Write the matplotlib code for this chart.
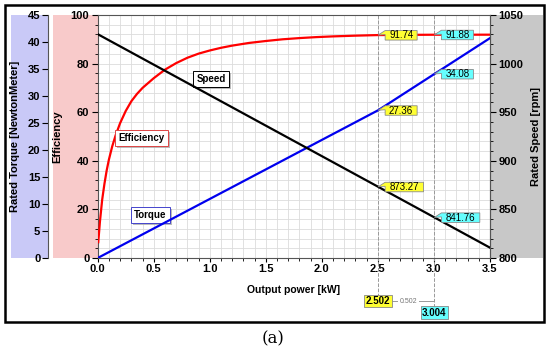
import matplotlib
matplotlib.use('Agg')
import matplotlib.pyplot as plt
import matplotlib.ticker as ticker
import matplotlib.transforms as mtransforms
import matplotlib.patheffects as pe
from matplotlib.patches import Rectangle, Polygon

plt.rcParams['font.family'] = ['Liberation Sans', 'DejaVu Sans']
plt.rcParams['font.weight'] = 'bold'

# datos
potencia = [0.005, 0.02, 0.04, 0.06, 0.08, 0.1, 0.13, 0.16, 0.2, 0.25, 0.3, 0.35,
            0.4, 0.5, 0.6, 0.7, 0.8, 0.9, 1.0, 1.1, 1.2, 1.35, 1.5, 1.65, 1.8, 1.95,
            2.1, 2.3, 2.502, 2.75, 3.004, 3.5]
eficiencia = [6.5, 15.0, 24.0, 30.5, 36.0, 40.5, 46.0, 50.5, 55.5, 60.5, 64.5, 67.5,
              70.0, 74.0, 77.5, 80.2, 82.4, 84.1, 85.4, 86.5, 87.4, 88.5, 89.3, 90.0,
              90.5, 90.9, 91.2, 91.5, 91.74, 91.82, 91.88, 91.9]

potencia_rect = [0.0, 2.502, 3.004, 3.5]
par = [0.0, 27.36, 34.08, 40.72]
velocidad = [1030.3, 873.27, 841.76, 810.6]

cursores = [2.502, 3.004]
colores_cursor = ['#ffff33', '#66ffff']
eff_cursor = [91.74, 91.88]
par_cursor = [27.36, 34.08]
vel_cursor = [873.27, 841.76]

W, H = 550, 353


def fx(px):
    return px / W


def fy(py):
    return 1 - py / H


fig = plt.figure(figsize=(W / 100, H / 100), dpi=100)

# paneles de color detras de los ejes
paneles = [(11, 49, '#c9c9f7'), (53, 97.7, '#f8caca'), (490, 543, '#c8c8c8')]
for x0, x1, c in paneles:
    fig.add_artist(Rectangle((fx(x0), fy(258)), (x1 - x0) / W, 243 / H,
                             transform=fig.transFigure, fc=c, ec='none', zorder=-5))

ax = fig.add_axes([fx(97.7), fy(258), (490 - 97.7) / W, 243 / H])
ax.set_xlim(0, 3.5)
ax.set_ylim(0, 100)
ax.xaxis.set_major_locator(ticker.MultipleLocator(0.5))
ax.xaxis.set_minor_locator(ticker.MultipleLocator(0.1))
ax.yaxis.set_major_locator(ticker.MultipleLocator(20))
ax.yaxis.set_minor_locator(ticker.MultipleLocator(4))
ax.xaxis.set_major_formatter(ticker.FormatStrFormatter('%.1f'))
ax.grid(which='both', color='#dcdcdc', lw=0.6)
ax.set_axisbelow(True)
ax.tick_params(which='major', length=4, width=0.8, labelsize=8, pad=2)
ax.tick_params(which='minor', length=2.5, width=0.6)
ax.tick_params(axis='x', which='major', length=3, pad=1)
ax.tick_params(axis='x', which='minor', length=2)
for s in ax.spines.values():
    s.set_color('#555555')
    s.set_linewidth(0.8)
ax.set_xlabel('Output power [kW]', fontsize=7.5, fontweight='bold')
ax.xaxis.set_label_coords(0.5, -0.111)
ax.set_ylabel('Efficiency', fontsize=8, fontweight='bold')
ax.yaxis.set_label_coords(-0.091, 0.5)
ax.plot(potencia, eficiencia, color='#ff0000', lw=1.6, zorder=3)

# eje del par (izquierda, desplazado)
ax_t = ax.twinx()
ax_t.set_ylim(0, 45)
ax_t.yaxis.set_ticks_position('left')
ax_t.yaxis.set_label_position('left')
ax_t.spines['left'].set_position(('axes', -0.1267))
ax_t.spines['right'].set_visible(False)
ax_t.spines['top'].set_visible(False)
ax_t.spines['bottom'].set_visible(False)
ax_t.spines['left'].set_color('#555555')
ax_t.yaxis.set_major_locator(ticker.MultipleLocator(5))
ax_t.tick_params(which='major', length=4, width=0.8, labelsize=8, pad=1.5)
ax_t.set_ylabel('Rated Torque [NewtonMeter]', fontsize=8, fontweight='bold')
ax_t.yaxis.set_label_coords(-0.199, 0.5)
ax_t.plot(potencia_rect, par, color='#0000ee', lw=1.6, zorder=3)

# eje de velocidad (derecha)
ax_v = ax.twinx()
ax_v.set_ylim(800, 1050)
ax_v.spines['left'].set_visible(False)
ax_v.spines['top'].set_visible(False)
ax_v.spines['bottom'].set_visible(False)
ax_v.spines['right'].set_color('#555555')
ax_v.yaxis.set_major_locator(ticker.MultipleLocator(50))
ax_v.yaxis.set_minor_locator(ticker.MultipleLocator(10))
ax_v.tick_params(which='major', length=4, width=0.8, labelsize=8, pad=2)
ax_v.tick_params(which='minor', length=2.5, width=0.6)
ax_v.set_ylabel('Rated Speed [rpm]', fontsize=8, fontweight='bold')
ax_v.yaxis.set_label_coords(1.104, 0.5)
ax_v.plot(potencia_rect, velocidad, color='black', lw=1.6, zorder=3)


def etiqueta(eje, x, y, texto, color):
    # caja con punta hacia la izquierda, medidas en pixeles (dpi 100)
    tr = fig.dpi_scale_trans + mtransforms.ScaledTranslation(x, y, eje.transData)
    w = 6.4 * len(texto)
    v = [(0, 0), (7, 4.5), (7 + w, 4.5), (7 + w, -5), (7, -5), (7, 0.5)]
    v = [(a / 100, b / 100) for a, b in v]
    eje.add_patch(Polygon(v, closed=True, transform=tr, fc=color, ec='#8a8a8a',
                          lw=0.6, zorder=10, clip_on=False))
    eje.text((7 + w / 2) / 100, -0.3 / 100, texto, transform=tr, ha='center', va='center',
             fontsize=7, fontweight='normal', color='black', zorder=11, clip_on=False)


# cursores verticales
trans = mtransforms.blended_transform_factory(ax.transData, ax.transAxes)
bajo = [-0.177, -0.226]
for k in range(len(cursores)):
    ax.plot([cursores[k], cursores[k]], [1, bajo[k]], transform=trans, clip_on=False,
            ls='--', color='#999999', lw=0.7, zorder=2)
    etiqueta(ax, cursores[k], eff_cursor[k], '%.2f' % eff_cursor[k], colores_cursor[k])
    etiqueta(ax_t, cursores[k], par_cursor[k], '%.2f' % par_cursor[k], colores_cursor[k])
    etiqueta(ax_v, cursores[k], vel_cursor[k], '%.2f' % vel_cursor[k], colores_cursor[k])
    ax.text(cursores[k], bajo[k], '%.3f' % cursores[k], transform=trans, ha='center',
            va='center', fontsize=7, fontweight='bold', zorder=10,
            bbox=dict(boxstyle='square,pad=0.15', fc=colores_cursor[k], ec='#888888', lw=0.6))

ax.plot([cursores[0], cursores[1]], [bajo[0], bajo[0]], transform=trans, clip_on=False,
        color='#999999', lw=0.7, zorder=2)
ax.text((cursores[0] + cursores[1]) / 2 + 0.02, bajo[0], '%.3f' % (cursores[1] - cursores[0]),
        transform=trans, ha='center', va='center', fontsize=5, fontweight='normal',
        color='#777777', zorder=9,
        bbox=dict(boxstyle='square,pad=0.2', fc='white', ec='none'))

# etiquetas de las series
nombres = ['Speed', 'Efficiency', 'Torque']
pos_nombres = [(1.01, 73.7), (0.39, 49.4), (0.47, 17.7)]
bordes = ['black', '#dd4444', '#4444cc']
for nombre, (px, py), c in zip(nombres, pos_nombres, bordes):
    t = ax.text(px, py, nombre, ha='center', va='center', fontsize=7, fontweight='bold',
                zorder=11, bbox=dict(boxstyle='square,pad=0.35', fc='white', ec=c, lw=0.7))
    t.get_bbox_patch().set_path_effects([pe.SimplePatchShadow(offset=(1.5, -1.5),
                                                              shadow_rgbFace='#aaaaaa', alpha=0.8),
                                         pe.Normal()])

# marco exterior
fig.add_artist(Rectangle((fx(5), fy(322)), (544 - 5) / W, (322 - 5) / H, fill=False,
                         ec='black', lw=1.8, transform=fig.transFigure))
fig.text(fx(273), fy(339), '(a)', ha='center', va='center', fontsize=12,
         fontweight='normal', family='DejaVu Serif')

fig.savefig('out.png', dpi=100)
